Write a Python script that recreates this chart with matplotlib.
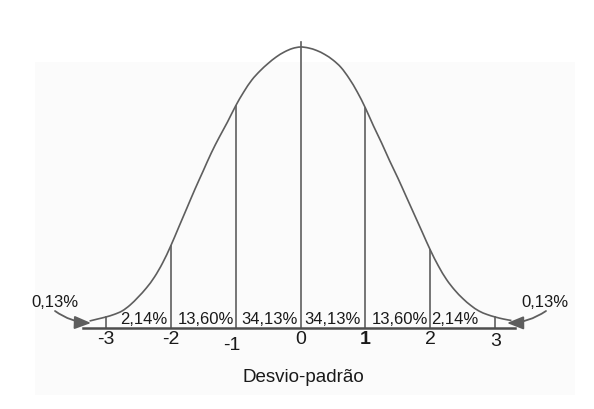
import numpy as np
import matplotlib
matplotlib.use("Agg")
import matplotlib.pyplot as plt
from matplotlib.patches import Rectangle, PathPatch
from matplotlib.path import Path

plt.rcParams['font.family'] = ['Liberation Sans', 'DejaVu Sans']

# ---- data ----
# curve heights (pixels above baseline) at standard-deviation positions
sd_positions = [-3.25, -3.125, -3.0, -2.875, -2.75, -2.625, -2.5, -2.375, -2.25, -2.125,
                -2.0, -1.875, -1.75, -1.625, -1.5, -1.375, -1.25, -1.125, -1.0, -0.875,
                -0.75, -0.625, -0.5, -0.375, -0.25, -0.125, 0.0,
                0.125, 0.25, 0.375, 0.5, 0.625, 0.75, 0.875, 1.0, 1.125, 1.25,
                1.375, 1.5, 1.625, 1.75, 1.875, 2.0, 2.125, 2.25, 2.375, 2.5,
                2.625, 2.75, 2.875, 3.0, 3.125, 3.25]
curve_heights = [7, 9, 11, 13.5, 17, 23, 31, 40, 51, 65,
                 82, 101, 120, 139, 157, 175, 191, 206, 222, 236,
                 248, 257, 264.5, 271, 276, 279.5, 281,
                 280, 277.5, 273.5, 268, 260.5, 249.5, 236, 220, 202, 185,
                 167, 150, 132, 114, 96, 78, 62, 48.5, 38, 29.5,
                 22.5, 17, 13.5, 11, 9, 7.5]
center_line_top = 286

tick_values = [-3, -2, -1, 0, 1, 2, 3]
tick_labels = ['-3', '-2', '-1', '0', '1', '2', '3']
interval_labels = ['2,14%', '13,60%', '34,13%', '34,13%', '13,60%', '2,14%']
tail_label = '0,13%'
axis_title = 'Desvio-padrão'

# ---- figure: 1 data unit in x = 64.9 px, 1 unit in y = 1 px ----
W, H = 594, 409
fig = plt.figure(figsize=(W / 100, H / 100), dpi=100)
ax = fig.add_axes([0, 0, 1, 1])
x0, ppu, base = 300.5, 64.9, 328
ax.set_xlim(-x0 / ppu, (W - x0) / ppu)
ax.set_ylim(base - H, base)
ax.axis('off')

def px2u(px):
    return (px - x0) / ppu

# faint scanned-paper patch
ax.add_patch(Rectangle((px2u(35), base - 395), (575 - 35) / ppu, 333,
                       facecolor='#fbfbfb', edgecolor='none', zorder=0))

line_col = '#5e5e5e'
text_col = '#1a1a1a'

sd = np.array(sd_positions)
hh = np.array(curve_heights)

# smooth rendering of the read points (cubic Bezier through every point)
pts = np.column_stack([sd, hh])
verts = [pts[0]]
codes = [Path.MOVETO]
n = len(pts)
for i in range(n - 1):
    p0 = pts[max(i - 1, 0)]
    p1 = pts[i]
    p2 = pts[i + 1]
    p3 = pts[min(i + 2, n - 1)]
    c1 = p1 + (p2 - p0) / 6.0
    c2 = p2 - (p3 - p1) / 6.0
    verts += [c1, c2, p2]
    codes += [Path.CURVE4] * 3
ax.add_patch(PathPatch(Path(verts, codes), facecolor='none', edgecolor=line_col,
                       lw=1.2, zorder=3))

# baseline
ax.plot([px2u(83), px2u(515)], [0, 0], color='#4e4e4e', lw=1.8, zorder=3)

# vertical lines at integer deviations
for t in tick_values:
    if t == 0:
        top = center_line_top
    else:
        top = hh[np.argmin(np.abs(sd - t))]
    ax.plot([t, t], [0, top], color=line_col, lw=1.2, zorder=2)

# interval percentages
mids = [-2.5, -1.5, -0.5, 0.5, 1.5, 2.5]
offs = [0.08, 0.04, 0.03, -0.01, 0.03, -0.12]
for m, o, lab in zip(mids, offs, interval_labels):
    ax.text(m + o, 9, lab, ha='center', va='center', fontsize=12, color=text_col, zorder=4)

# tick labels
tick_dx = [0, 0, -0.06, 0, 0, 0, 0]
tick_y = [-12, -12, -17, -12, -12, -12, -14]
for t, lab, dx, ty in zip(tick_values, tick_labels, tick_dx, tick_y):
    ax.text(t + dx, ty, lab, ha='center', va='center', fontsize=14, color=text_col,
            fontweight='bold' if lab == '1' else 'normal', zorder=4)

# axis title
ax.text(px2u(303), base - 378, axis_title, ha='center', va='center', fontsize=13.5, color=text_col)

# tail labels with arrows
ax.text(px2u(55), base - 302.5, tail_label, ha='center', va='center', fontsize=12, color=text_col)
ax.text(px2u(545), base - 302.5, tail_label, ha='center', va='center', fontsize=12, color=text_col)
arrow_kw = dict(arrowstyle='-|>,head_length=1.0,head_width=0.4', color=line_col, lw=1.3,
                shrinkA=0, shrinkB=0)
ax.annotate('', xy=(px2u(91), base - 323), xytext=(px2u(55), base - 311),
            arrowprops=dict(connectionstyle='arc3,rad=0.15', **arrow_kw), zorder=5)
ax.annotate('', xy=(px2u(507), base - 323), xytext=(px2u(546), base - 311),
            arrowprops=dict(connectionstyle='arc3,rad=-0.15', **arrow_kw), zorder=5)

fig.savefig('out.png', dpi=100, facecolor='white')
